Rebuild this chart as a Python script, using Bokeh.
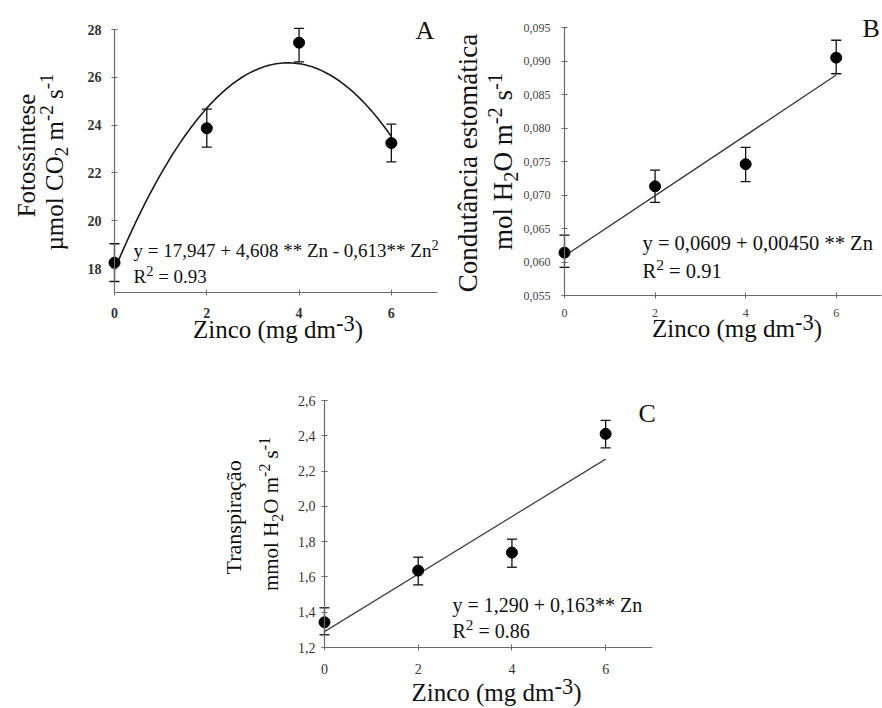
import numpy as np
from math import pi
from bokeh.plotting import figure
from bokeh.models import Range1d, FixedTicker, Label, Whisker, TeeHead, ColumnDataSource, Spacer
from bokeh.layouts import column, row
from bokeh.embed import file_html
from bokeh.resources import INLINE

# ---------------- data ----------------
zinc = [0, 2, 4, 6]
x_ticks = [0, 2, 4, 6]
x_tick_labels = ["0", "2", "4", "6"]

photo_mean = [18.25, 23.87, 27.45, 23.25]
photo_low = [17.46, 23.08, 26.65, 22.46]
photo_high = [19.04, 24.67, 28.05, 24.04]
photo_coef = [17.947, 4.608, -0.613]
photo_yticks = [18, 20, 22, 24, 26, 28]
photo_ytick_labels = ["18", "20", "22", "24", "26", "28"]

cond_mean = [0.0614, 0.0713, 0.0746, 0.0905]
cond_low = [0.0592, 0.0689, 0.0720, 0.0881]
cond_high = [0.0640, 0.0737, 0.0771, 0.0931]
cond_coef = [0.0609, 0.00450]
cond_yticks = [0.055, 0.060, 0.065, 0.070, 0.075, 0.080, 0.085, 0.090, 0.095]
cond_ytick_labels = ["0,055", "0,060", "0,065", "0,070", "0,075", "0,080", "0,085", "0,090", "0,095"]

trans_mean = [1.343, 1.636, 1.738, 2.411]
trans_low = [1.272, 1.555, 1.655, 2.332]
trans_high = [1.425, 1.712, 1.814, 2.487]
trans_coef = [1.290, 0.163]
trans_yticks = [1.2, 1.4, 1.6, 1.8, 2.0, 2.2, 2.4, 2.6]
trans_ytick_labels = ["1,2", "1,4", "1,6", "1,8", "2,0", "2,2", "2,4", "2,6"]

FONT = "Liberation Serif"
BASE_CORR = 0.37  # compensates the baseline placement of rendered labels

# Times/Liberation Serif advance widths (em)
TNR = {' ': .25, 'a': .444, 'b': .5, 'c': .444, 'd': .5, 'e': .444, 'f': .333, 'g': .5, 'h': .5,
       'i': .278, 'j': .278, 'k': .5, 'l': .278, 'm': .778, 'n': .5, 'o': .5, 'p': .5, 'q': .5,
       'r': .333, 's': .389, 't': .278, 'u': .5, 'v': .5, 'w': .722, 'x': .5, 'y': .5, 'z': .444,
       'C': .667, 'F': .556, 'H': .722, 'O': .722, 'R': .667, 'T': .611, 'Z': .611, 'µ': .576,
       'â': .444, 'á': .444, 'ã': .444, 'í': .278, 'ç': .444, ',': .25, '.': .25, '(': .333,
       ')': .333, '=': .564, '+': .564, '-': .333, '*': .5}


def tw(s, size):
    return sum(TNR.get(ch, 0.5) for ch in s) * size


def rich(p, x0, y0, dx, dy, pieces, fs, vertical=False, center=False, scale=0.76,
         sup_shift=None, sub_shift=None, color="#111"):
    if sup_shift is None:
        sup_shift = 0.38 * fs
    if sub_shift is None:
        sub_shift = 0.22 * fs
    sizes = [fs if k == "n" else fs * scale for _, k in pieces]
    widths = [tw(t, s) for (t, _), s in zip(pieces, sizes)]
    total = sum(widths)
    pos = -total / 2 if center else 0.0
    for (t, k), s, w in zip(pieces, sizes, widths):
        lead = len(t) - len(t.lstrip(" "))
        txt = t.strip(" ")
        start = pos + lead * TNR[' '] * s
        perp = 0 if k == "n" else (sup_shift if k == "sup" else -sub_shift)
        perp += BASE_CORR * s
        if vertical:
            xo, yo, ang = dx - perp, dy + start, pi / 2
        else:
            xo, yo, ang = dx + start, dy + perp, 0
        p.add_layout(Label(x=x0, y=y0, x_offset=xo, y_offset=yo, text=txt, angle=ang,
                           text_font=FONT, text_font_size=f"{s:.1f}px", text_align="left",
                           text_baseline="alphabetic", text_color=color))
        pos += w


def make_fig(W, H, xpx, xdat, ypx, ydat, yticks, ylabels, tick_fs, bold,
             ystand, xstand, tick_color):
    # xpx: canvas pixels of (xdat[0], xdat[1]); ypx: canvas pixels (from top) of (ydat[0], ydat[1])
    kx = (xpx[1] - xpx[0]) / (xdat[1] - xdat[0])
    ky = (ypx[0] - ypx[1]) / (ydat[1] - ydat[0])
    xr = Range1d(xdat[0] - xpx[0] / kx, xdat[0] + (W - xpx[0]) / kx)
    yr = Range1d(ydat[0] - (H - ypx[0]) / ky, ydat[1] + ypx[1] / ky)
    p = figure(width=W, height=H, x_range=xr, y_range=yr, title=None,
               output_backend="svg", toolbar_location=None,
               min_border_left=0, min_border_right=0, min_border_top=0, min_border_bottom=0)
    p.xgrid.visible = False
    p.ygrid.visible = False
    p.outline_line_color = None
    p.background_fill_color = "white"
    p.border_fill_color = "white"
    p.xaxis.ticker = FixedTicker(ticks=x_ticks)
    p.xaxis.major_label_overrides = {t: l for t, l in zip(x_ticks, x_tick_labels)}
    p.yaxis.ticker = FixedTicker(ticks=yticks)
    p.yaxis.major_label_overrides = {t: l for t, l in zip(yticks, ylabels)}
    p.yaxis.fixed_location = xdat[0]
    p.xaxis.fixed_location = ydat[0]
    p.xaxis.bounds = (xdat[0], xdat[1])
    p.yaxis.bounds = (ydat[0], ydat[1])
    for ax in (p.xaxis, p.yaxis):
        ax.axis_line_color = "#6a6a6a"
        ax.axis_line_width = 1.2
        ax.major_tick_line_color = "#6a6a6a"
        ax.major_tick_in = 3
        ax.major_tick_out = 3
        ax.minor_tick_line_color = None
        ax.major_label_text_font = FONT
        ax.major_label_text_font_size = f"{tick_fs}px"
        ax.major_label_text_font_style = "bold" if bold else "normal"
        ax.major_label_text_color = tick_color
    p.yaxis.major_label_standoff = ystand
    p.xaxis.major_label_standoff = xstand
    return p


def add_data(p, mean, low, high, fx, fy, lc, lw):
    src = ColumnDataSource(dict(x=zinc, m=mean, lo=low, hi=high))
    p.line(fx, fy, line_color=lc, line_width=lw)
    p.add_layout(Whisker(source=src, base="x", lower="lo", upper="hi", line_color="#111",
                         line_width=1.3,
                         upper_head=TeeHead(size=10, line_color="#111", line_width=1.3),
                         lower_head=TeeHead(size=10, line_color="#111", line_width=1.3)))
    p.scatter("x", "m", source=src, size=11, color="black")


TITLE = [("Zinco (mg dm", "n"), ("-3", "sup"), (")", "n")]

# ---------------- Panel A ----------------
pA = make_fig(448, 353, (114, 437), (0, 7), (292, 29), (17, 28),
              photo_yticks, photo_ytick_labels, 14, True, 10, 12, "#333")
fxa = np.linspace(0, 6, 121)
fya = photo_coef[0] + photo_coef[1] * fxa + photo_coef[2] * fxa ** 2
add_data(pA, photo_mean, photo_low, photo_high, fxa, fya, "#1a1a1a", 1.6)
y0 = 17
rich(pA, 0, y0, -79, 137, [("Fotossíntese", "n")], 25, vertical=True, center=True)
rich(pA, 0, y0, -51, 130.5, [("µmol CO", "n"), ("2", "sub"), (" m", "n"), ("-2", "sup"),
                              (" s", "n"), ("-1", "sup")], 25, vertical=True, center=True)
rich(pA, 0, y0, 301, 252, [("A", "n")], 26)
rich(pA, 0, y0, 19, 35, [("y = 17,947 + 4,608 ** Zn - 0,613** Zn", "n"), ("2", "sup")], 19)
rich(pA, 0, y0, 19, 9, [("R", "n"), ("2", "sup"), (" = 0.93", "n")], 19)
rich(pA, 0, y0, 163.5, -46, TITLE, 25, center=True, scale=0.9, sup_shift=7)

# ---------------- Panel B ----------------
pB = make_fig(434, 353, (116, 433), (0, 7), (295, 27), (0.055, 0.095),
              cond_yticks, cond_ytick_labels, 12, False, 11, 10, "#444")
fxb = np.array([0.0, 6.0])
fyb = cond_coef[0] + cond_coef[1] * fxb
add_data(pB, cond_mean, cond_low, cond_high, fxb, fyb, "#333", 1.3)
y0 = 0.055
rich(pB, 0, y0, -87, 132.5, [("Condutância estomática", "n")], 27, vertical=True, center=True)
rich(pB, 0, y0, -52, 134, [("mol H", "n"), ("2", "sub"), ("O m", "n"), ("-2", "sup"),
                            (" s", "n"), ("-1", "sup")], 27, vertical=True, center=True)
rich(pB, 0, y0, 298, 257, [("B", "n")], 26)
rich(pB, 0, y0, 78, 45, [("y = 0,0609 + 0,00450 ** Zn", "n")], 20.5)
rich(pB, 0, y0, 78, 17, [("R", "n"), ("2", "sup"), (" = 0.91", "n")], 20.5)
rich(pB, 0, y0, 172.5, -42, TITLE, 25, center=True, scale=0.9, sup_shift=7)

# ---------------- Panel C ----------------
pC = make_fig(458, 355, (110, 438), (0, 7), (294, 47), (1.2, 2.6),
              trans_yticks, trans_ytick_labels, 14, False, 6, 13, "#333")
fxc = np.array([0.0, 6.0])
fyc = trans_coef[0] + trans_coef[1] * fxc
add_data(pC, trans_mean, trans_low, trans_high, fxc, fyc, "#444", 1.3)
y0 = 1.2
rich(pC, 0, y0, -83, 130.5, [("Transpiração", "n")], 22, vertical=True, center=True)
rich(pC, 0, y0, -46, 133.5, [("mmol H", "n"), ("2", "sub"), ("O m", "n"), ("-2", "sup"),
                              (" s", "n"), ("-1", "sup")], 21, vertical=True, center=True)
rich(pC, 0, y0, 314, 224, [("C", "n")], 26)
rich(pC, 0, y0, 128, 35, [("y = 1,290 + 0,163** Zn", "n")], 20)
rich(pC, 0, y0, 128, 9, [("R", "n"), ("2", "sup"), (" = 0.86", "n")], 20)
rich(pC, 0, y0, 172, -54, TITLE, 25, center=True, scale=0.9, sup_shift=7)

layout = column(row(pA, pB), row(Spacer(width=214, height=355), pC))
open("out.html", "w").write(file_html(layout, INLINE))
